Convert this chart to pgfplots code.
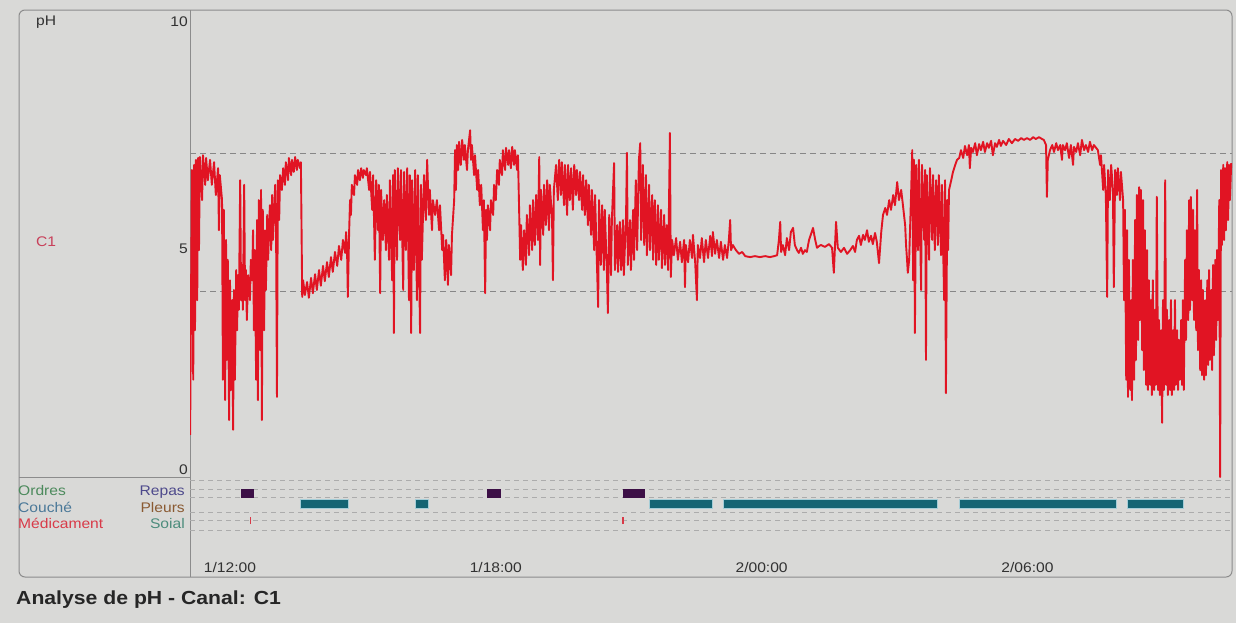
\documentclass[border=0pt]{standalone}
\usepackage{pgfplots}
\pgfplotsset{compat=1.18}
\usepackage{fontspec}
\setmainfont{Liberation Sans}[FakeStretch=1.12]
\definecolor{bg}{RGB}{217,217,215}
\definecolor{framec}{RGB}{140,140,140}
\definecolor{dashc}{RGB}{135,135,135}
\definecolor{rowc}{RGB}{172,172,172}
\definecolor{trace}{RGB}{225,20,35}
\definecolor{purp}{RGB}{60,15,70}
\definecolor{tealc}{RGB}{20,100,115}
\definecolor{tealh}{RGB}{165,205,215}
\definecolor{txt}{RGB}{50,50,50}
\definecolor{cone}{RGB}{200,64,90}
\definecolor{cordres}{RGB}{76,138,92}
\definecolor{ccouche}{RGB}{74,120,152}
\definecolor{cmedic}{RGB}{216,58,72}
\definecolor{crepas}{RGB}{78,74,140}
\definecolor{cpleurs}{RGB}{138,90,50}
\definecolor{csoial}{RGB}{76,140,124}
\newcommand{\lbl}{\fontsize{14}{17}\selectfont}
\begin{document}
\begin{tikzpicture}
\fill[bg] (0,0) rectangle (1236bp,-623bp);
\draw[framec, line width=1bp, rounded corners=6bp] (19bp,-10bp) rectangle (1232bp,-577bp);
\draw[framec, line width=1bp] (190bp,-10bp) -- (190bp,-577bp);
\draw[framec, line width=1bp] (19bp,-477bp) -- (190bp,-477bp);
% left texts
\node[anchor=base west, inner sep=0, font=\lbl, text=txt] at (36bp,-25bp) {pH};
\node[anchor=base east, inner sep=0, font=\lbl, text=txt] at (188bp,-26bp) {10};
\node[anchor=base west, inner sep=0, font=\lbl, text=cone] at (36bp,-246bp) {C1};
\node[anchor=base east, inner sep=0, font=\lbl, text=txt] at (188bp,-253bp) {5};
\node[anchor=base east, inner sep=0, font=\lbl, text=txt] at (188bp,-474bp) {0};
\node[anchor=base west, inner sep=0, font=\lbl, text=cordres] at (18bp,-495bp) {Ordres};
\node[anchor=base west, inner sep=0, font=\lbl, text=ccouche] at (18bp,-512bp) {Couché};
\node[anchor=base west, inner sep=0, font=\lbl, text=cmedic] at (18bp,-528bp) {Médicament};
\node[anchor=base east, inner sep=0, font=\lbl, text=crepas] at (185bp,-495bp) {Repas};
\node[anchor=base east, inner sep=0, font=\lbl, text=cpleurs] at (185bp,-512bp) {Pleurs};
\node[anchor=base east, inner sep=0, font=\lbl, text=csoial] at (185bp,-528bp) {Soial};
\node[anchor=base west, inner sep=0, font=\fontsize{19}{22}\selectfont\bfseries, text=black!85] at (16bp,-604bp) {Analyse de pH - Canal: C1};
% main pH axis
\begin{axis}[at={(190bp,-477bp)}, anchor=south west, scale only axis,
  width=1042bp, height=463bp,
  xmin=11.097, xmax=34.618, ymin=0, ymax=10,
  axis line style={draw=none}, major tick length=0pt,
  xtick=\empty, ytick={4,7}, yticklabels={},
  ymajorgrids, grid style={dashc, dash pattern=on 6bp off 4bp, line width=0.8bp}]
\addplot[trace, line width=1.9bp, line join=round, mark=none] coordinates {
(11.10,0.91) (11.12,3.82) (11.14,6.63) (11.17,2.10) (11.19,6.74) (11.21,3.17) (11.23,6.85) (11.26,3.82) (11.28,6.89) (11.30,4.90) (11.32,6.91) (11.37,5.98) (11.39,6.95) (11.44,6.31) (11.46,6.89) (11.50,6.41) (11.55,6.85) (11.59,6.31) (11.64,6.80) (11.68,6.09) (11.73,6.67) (11.75,5.33) (11.77,6.52)
(11.82,5.98) (11.84,2.10) (11.86,5.77) (11.89,1.66) (11.91,5.12) (11.93,2.53) (11.95,4.69) (11.98,1.23) (12.00,4.25) (12.02,1.88) (12.05,3.82) (12.07,1.02) (12.09,4.04) (12.11,2.10) (12.14,4.47) (12.16,3.17) (12.18,4.36) (12.20,3.61) (12.23,6.41) (12.25,3.82) (12.27,4.58) (12.29,3.61) (12.32,6.31) (12.34,3.82) (12.36,4.47) (12.38,3.39) (12.41,4.36) (12.45,3.82) (12.47,4.69)
(12.50,4.25) (12.52,5.33) (12.54,3.17) (12.56,4.90) (12.59,2.10) (12.61,5.55) (12.63,1.66) (12.65,5.98) (12.68,2.74) (12.70,6.20) (12.72,1.23) (12.74,5.77) (12.77,3.17) (12.79,5.33) (12.81,4.04) (12.84,5.66)
(12.86,4.69) (12.90,5.87) (12.93,4.90) (12.95,6.09) (12.97,5.12) (13.02,6.31) (13.04,5.33) (13.06,1.73) (13.08,6.41) (13.11,5.55) (13.13,6.52)
(13.17,6.20) (13.20,6.67) (13.24,6.31) (13.26,6.80) (13.31,6.41) (13.33,6.89) (13.38,6.52) (13.40,6.85) (13.44,6.59) (13.47,6.91) (13.51,6.63) (13.53,6.85) (13.58,6.67) (13.60,6.80)
(13.63,3.89) (13.65,4.25) (13.69,3.93) (13.74,4.21) (13.78,3.87) (13.83,4.30) (13.87,3.97) (13.92,4.38) (13.96,4.04) (14.01,4.47) (14.05,4.13) (14.10,4.56) (14.14,4.23) (14.19,4.64) (14.23,4.32) (14.28,4.75) (14.32,4.43) (14.37,4.86) (14.42,4.56) (14.46,4.99) (14.51,4.69) (14.55,5.12) (14.60,4.84) (14.62,5.29) (14.64,5.01) (14.66,3.89)
(14.69,5.33) (14.71,5.98) (14.73,5.66) (14.75,6.31) (14.80,6.09) (14.82,6.52) (14.87,6.31) (14.89,6.63) (14.93,6.41) (14.96,6.67) (15.00,6.46) (15.02,6.63) (15.07,6.52) (15.09,6.67)
(15.14,6.20) (15.16,6.59) (15.21,5.77) (15.23,6.52) (15.27,4.69) (15.30,6.41) (15.34,5.33) (15.36,6.31) (15.39,3.97) (15.41,6.20) (15.45,5.12) (15.48,5.98) (15.52,4.90) (15.54,6.09) (15.59,4.69) (15.61,6.41) (15.66,4.25) (15.68,6.52) (15.70,3.11) (15.72,6.63) (15.77,4.69) (15.79,6.67) (15.84,5.12) (15.86,6.63) (15.91,4.04) (15.93,6.59) (15.97,4.90) (16.00,6.67) (16.04,3.82) (16.06,6.52) (16.09,3.11) (16.11,6.41) (16.15,4.47) (16.18,6.63) (16.22,3.82) (16.24,6.52) (16.29,3.11) (16.31,6.31) (16.33,4.69) (16.38,6.52) (16.42,5.55) (16.45,6.85) (16.49,5.66) (16.51,6.20) (16.56,5.33) (16.58,5.98) (16.63,5.66) (16.67,5.98)
(16.72,5.33) (16.74,5.87) (16.79,4.90) (16.81,5.23) (16.85,4.25) (16.88,5.12) (16.92,4.15) (16.94,5.01) (16.99,4.36) (17.01,5.23) (17.06,5.98) (17.08,7.06) (17.10,6.20) (17.12,7.17)
(17.15,6.63) (17.17,7.24) (17.21,6.74) (17.24,7.28) (17.28,6.85) (17.30,7.17) (17.35,6.63) (17.37,7.06) (17.42,7.49) (17.44,6.85) (17.46,7.17) (17.51,6.52) (17.53,6.95) (17.58,6.20) (17.60,6.63) (17.64,5.87) (17.67,6.31) (17.71,5.33) (17.73,5.98) (17.76,3.97) (17.78,5.77) (17.80,5.12) (17.82,5.87)
(17.87,5.33) (17.89,5.98) (17.94,5.66) (17.96,6.31) (18.00,5.98) (18.03,6.63) (18.07,6.31) (18.09,6.85) (18.14,6.52) (18.16,7.06) (18.21,6.63) (18.23,7.11) (18.28,6.74) (18.30,7.06) (18.34,6.67) (18.37,7.13) (18.41,6.74) (18.43,7.06) (18.48,6.63) (18.50,6.95)
(18.55,4.69) (18.57,5.44) (18.61,4.47) (18.64,5.33) (18.68,4.58) (18.70,5.66) (18.75,4.79) (18.77,5.87) (18.82,4.90) (18.84,5.98) (18.88,5.01) (18.91,6.09) (18.95,5.12) (18.98,6.91) (19.00,4.58) (19.02,6.20) (19.07,5.23) (19.09,6.31) (19.13,5.44) (19.16,6.41) (19.20,5.33) (19.22,6.31) (19.27,5.55) (19.29,4.25) (19.31,6.20)
(19.36,6.74) (19.40,5.98) (19.43,6.85) (19.47,6.09) (19.49,6.80) (19.54,5.87) (19.56,6.74) (19.61,5.66) (19.63,6.74) (19.67,5.98) (19.70,6.67) (19.74,5.77) (19.77,6.74) (19.81,6.09) (19.83,6.63) (19.88,5.98) (19.90,6.59) (19.95,5.77) (19.97,6.52) (20.01,5.66) (20.04,6.41) (20.08,5.44) (20.10,6.31) (20.15,5.23)
(20.17,6.20) (20.22,4.90) (20.24,6.09) (20.28,4.69) (20.31,3.67) (20.33,5.98) (20.37,4.58) (20.40,5.87) (20.44,4.47) (20.46,5.77) (20.51,4.36) (20.53,3.54) (20.56,5.66) (20.60,4.36) (20.62,5.55)
(20.67,6.78) (20.69,4.47) (20.74,5.44) (20.76,4.43) (20.80,5.51) (20.83,4.47) (20.87,5.55) (20.89,4.36) (20.94,5.66) (20.96,7.00) (20.98,4.58) (21.03,5.55) (21.05,4.47) (21.10,5.77) (21.12,4.69)
(21.16,6.41) (21.19,4.90) (21.23,6.85) (21.26,7.21) (21.28,5.12) (21.32,6.74) (21.35,5.01) (21.39,6.52) (21.41,4.79) (21.46,6.31) (21.48,4.90) (21.53,6.09) (21.55,4.69) (21.59,5.98) (21.62,4.58) (21.66,5.87) (21.68,4.69) (21.73,5.77) (21.75,4.51) (21.80,5.66) (21.82,4.58) (21.86,5.44) (21.89,4.47)
(21.93,7.43) (21.95,4.32) (21.98,5.12)
(22.02,4.79) (22.07,5.16) (22.11,4.69) (22.16,5.08) (22.20,4.64) (22.25,5.12) (22.27,4.10) (22.29,5.01) (22.34,4.64) (22.38,5.12) (22.43,4.73) (22.45,5.23) (22.50,4.64) (22.54,3.82) (22.56,5.01) (22.61,4.73) (22.65,5.16) (22.70,4.64) (22.74,5.12) (22.79,4.73) (22.84,5.21) (22.88,4.77) (22.90,5.29) (22.95,4.82) (22.99,5.12) (23.04,4.73) (23.08,5.08) (23.13,4.69) (23.17,5.01) (23.22,4.73) (23.26,5.12) (23.29,5.55) (23.31,4.90) (23.35,5.01)
(23.42,4.90) (23.49,4.82) (23.56,4.86) (23.63,4.77) (23.74,4.75) (23.85,4.77) (23.96,4.75) (24.08,4.77) (24.19,4.75) (24.28,4.77)
(24.35,4.79) (24.39,5.12) (24.42,5.51) (24.44,4.86) (24.48,5.01) (24.53,4.79) (24.57,5.16) (24.62,4.90) (24.66,5.29) (24.71,5.38) (24.75,5.01) (24.80,4.90) (24.84,4.84) (24.89,4.95) (24.93,4.82) (24.98,4.90) (25.02,4.86) (25.07,5.12) (25.11,5.23) (25.16,5.38) (25.21,5.12) (25.25,4.95) (25.30,4.99) (25.34,5.01) (25.43,4.97) (25.52,5.03) (25.59,4.95) (25.63,4.41) (25.68,5.51) (25.72,4.95) (25.79,4.86) (25.86,4.95) (25.93,4.82) (26.00,4.90) (26.06,4.99)
(26.11,4.86) (26.15,5.12) (26.20,5.21) (26.24,5.01) (26.29,5.23) (26.33,5.12) (26.38,5.33) (26.42,5.08) (26.47,5.21) (26.51,5.03) (26.56,5.27) (26.60,5.08) (26.65,4.62) (26.70,5.29) (26.74,5.66) (26.79,5.81) (26.83,5.66) (26.88,5.98) (26.92,5.77) (26.97,6.09) (27.01,5.87) (27.06,6.37) (27.10,5.98) (27.15,6.20) (27.19,5.87) (27.24,5.44) (27.26,5.01) (27.28,4.73) (27.30,4.41) (27.33,4.69)
(27.37,5.98) (27.40,7.06) (27.42,4.25) (27.44,6.85) (27.46,3.11) (27.49,6.74) (27.53,4.90) (27.55,6.85) (27.60,4.04) (27.62,6.74) (27.67,5.12) (27.69,6.63) (27.71,2.53) (27.73,6.52) (27.78,4.69) (27.80,6.67) (27.85,5.12) (27.87,6.52) (27.91,4.90) (27.94,6.41) (27.98,5.01) (28.00,6.52) (28.05,4.79) (28.07,6.31) (28.12,3.82) (28.14,6.41) (28.16,1.81) (28.19,5.98) (28.21,4.90) (28.23,6.20)
(28.28,6.41) (28.32,6.59) (28.37,6.74) (28.41,6.85) (28.46,6.89)
(28.50,7.06) (28.55,6.89) (28.59,7.15) (28.64,6.95) (28.68,7.17) (28.70,6.67) (28.73,7.11) (28.77,7.02) (28.82,7.21) (28.86,6.95) (28.91,7.19) (28.95,7.06) (29.00,7.24) (29.04,7.02) (29.09,7.21) (29.13,7.11) (29.18,7.26) (29.22,6.95) (29.27,7.21) (29.31,7.13) (29.36,7.28) (29.40,7.15) (29.45,7.26) (29.52,7.17) (29.58,7.30) (29.65,7.21) (29.72,7.30) (29.79,7.26) (29.86,7.32) (29.92,7.28) (29.99,7.32) (30.06,7.28) (30.13,7.34) (30.19,7.30) (30.26,7.34) (30.33,7.30) (30.37,7.28) (30.42,7.17) (30.44,6.05) (30.46,6.85) (30.51,7.06)
(30.56,7.17) (30.60,7.02) (30.65,7.21) (30.69,7.06) (30.74,7.17) (30.78,6.85) (30.80,7.17) (30.85,7.06) (30.89,7.21) (30.94,6.89) (30.98,7.17) (31.03,6.74) (31.05,7.13) (31.10,7.02) (31.14,7.21) (31.19,6.95) (31.23,7.28) (31.28,7.06) (31.32,7.17) (31.37,7.02) (31.41,7.24) (31.46,7.06) (31.50,7.17) (31.55,7.11)
(31.59,7.06) (31.64,6.74) (31.66,6.95) (31.71,6.20) (31.73,6.74) (31.77,6.09) (31.80,3.89) (31.82,6.63) (31.86,5.98) (31.89,6.74) (31.93,6.20) (31.95,4.10) (31.98,6.63) (32.02,6.09) (32.04,6.67) (32.09,5.98) (32.11,6.59)
(32.16,5.98) (32.18,3.82) (32.20,5.77) (32.23,2.10) (32.25,5.33) (32.27,1.73) (32.29,4.69) (32.32,1.88) (32.34,3.82) (32.36,1.66) (32.38,4.69) (32.41,2.10) (32.43,5.55) (32.45,2.53) (32.47,6.09) (32.50,2.96) (32.52,6.26) (32.54,3.39) (32.56,6.20) (32.59,2.74) (32.61,5.98) (32.63,2.31) (32.65,5.33) (32.68,1.99) (32.70,4.90) (32.72,1.88) (32.74,4.25) (32.77,1.99) (32.79,3.82) (32.81,1.77) (32.83,4.25) (32.86,1.88) (32.88,3.61) (32.90,1.99) (32.92,6.05) (32.95,1.88) (32.97,3.39) (32.99,1.77) (33.02,3.17) (33.04,1.17) (33.06,3.82) (33.08,1.88) (33.11,6.41) (33.13,1.99) (33.15,3.61) (33.17,1.77) (33.20,3.39) (33.22,1.88) (33.24,3.82) (33.26,1.77) (33.29,3.17) (33.31,1.88) (33.33,3.82) (33.35,1.99) (33.38,3.17) (33.40,1.88) (33.42,2.96) (33.44,2.10) (33.47,3.39) (33.49,1.99) (33.51,3.82) (33.53,1.88) (33.56,4.69) (33.58,2.96) (33.60,5.33) (33.63,3.39) (33.65,5.98) (33.67,3.61) (33.69,6.05) (33.72,3.82) (33.74,5.77) (33.76,3.39) (33.78,5.33) (33.81,3.17) (33.83,6.20) (33.85,2.74) (33.87,4.47) (33.90,2.31) (33.92,4.25) (33.94,2.20) (33.96,4.04) (33.99,2.10) (34.01,3.82) (34.03,2.20) (34.06,4.25) (34.08,2.42) (34.10,4.47) (34.12,2.53) (34.15,4.04) (34.17,2.31) (34.19,4.58) (34.21,2.63) (34.24,4.69) (34.26,2.96) (34.28,4.90) (34.30,3.39) (34.33,5.98) (34.35,0.00) (34.37,6.63) (34.39,5.01) (34.42,6.74) (34.44,5.12) (34.46,6.67) (34.48,5.33) (34.51,6.80) (34.53,5.55) (34.55,6.74) (34.57,5.98) (34.60,6.78)
};
\end{axis}
% events axis
\begin{axis}[at={(190bp,-537bp)}, anchor=south west, scale only axis,
  width=1042bp, height=60bp,
  xmin=11.097, xmax=34.618, ymin=0, ymax=6, clip=false,
  axis line style={draw=none}, major tick length=0pt,
  xtick={12,18,24,30}, xticklabels={1/12:00,1/18:00,2/00:00,2/06:00},
  xticklabel style={anchor=center, yshift=-31bp, font=\lbl, text=txt},
  ytick={0.7,1.7,2.5,4.0,4.8,5.7}, yticklabels={},
  ymajorgrids, grid style={rowc, dash pattern=on 5bp off 4bp, line width=0.6bp}]
\addplot[tealh, line width=10bp] coordinates {(13.57,3.35) (14.69,3.35)};
\addplot[tealh, line width=10bp] coordinates {(16.17,3.35) (16.50,3.35)};
\addplot[tealh, line width=10bp] coordinates {(21.45,3.35) (22.91,3.35)};
\addplot[tealh, line width=10bp] coordinates {(23.12,3.35) (27.99,3.35)};
\addplot[tealh, line width=10bp] coordinates {(28.45,3.35) (32.03,3.35)};
\addplot[tealh, line width=10bp] coordinates {(32.24,3.35) (33.54,3.35)};
\addplot[tealc, line width=8bp] coordinates {(13.60,3.35) (14.66,3.35)};
\addplot[tealc, line width=8bp] coordinates {(16.20,3.35) (16.47,3.35)};
\addplot[tealc, line width=8bp] coordinates {(21.48,3.35) (22.88,3.35)};
\addplot[tealc, line width=8bp] coordinates {(23.15,3.35) (27.96,3.35)};
\addplot[tealc, line width=8bp] coordinates {(28.48,3.35) (32.00,3.35)};
\addplot[tealc, line width=8bp] coordinates {(32.27,3.35) (33.51,3.35)};
\addplot[purp, line width=9bp] coordinates {(12.25,4.4) (12.54,4.4)};
\addplot[purp, line width=9bp] coordinates {(17.80,4.4) (18.12,4.4)};
\addplot[purp, line width=9bp] coordinates {(20.87,4.4) (21.37,4.4)};
\addplot[cmedic, line width=1.3bp] coordinates {(12.46,1.3) (12.46,2.0)};
\addplot[cmedic, line width=1.3bp] coordinates {(20.87,1.3) (20.87,2.0)};
\end{axis}
\end{tikzpicture}
\end{document}
